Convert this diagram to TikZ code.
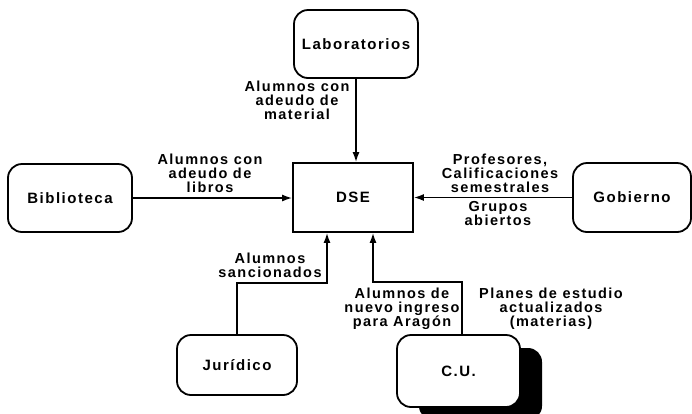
\documentclass[tikz,border=0pt]{standalone}
\usepackage{fontspec}
\setmainfont{Liberation Sans}
\newfontfamily\lblfont{Liberation Sans}[LetterSpace=10]
\usetikzlibrary{arrows.meta,shadows,calc}
\begin{document}
\begin{tikzpicture}[x=1pt,y=-1pt,
  boxfont/.style={font=\lblfont\bfseries\fontsize{15}{15}\selectfont},
  box/.style={draw,line width=1.8pt,rounded corners=14pt,fill=white,inner sep=0pt,boxfont},
  dsebox/.style={draw,line width=1.8pt,fill=white,inner sep=0pt,boxfont},
  lbl/.style={align=center,inner sep=0pt,font=\lblfont\bfseries\fontsize{14.5}{14}\selectfont},
  conn/.style={line width=1.5pt},
  arr/.style={conn,-{Latex[length=10pt,width=7pt]}}]
\useasboundingbox (0,0) rectangle (692,413);

\node[box,minimum width=124pt,minimum height=68pt] (lab) at (356,44) {Laboratorios};
\node[dsebox,minimum width=120pt,minimum height=69pt] (dse) at (353,197.5) {DSE};
\node[box,minimum width=124pt,minimum height=68pt] (bib) at (70,198) {Biblioteca};
\node[box,minimum width=118pt,minimum height=69pt] (gob) at (632,197.5) {Gobierno};
\node[box,minimum width=120pt,minimum height=60pt] (jur) at (237,365) {Jurídico};
\node[box,minimum width=123pt,minimum height=72pt,
      drop shadow={shadow xshift=22pt,shadow yshift=-13pt,fill=black,opacity=1}] (cu) at (458.5,371) {C.U.};

% connectors
\draw[arr] (lab.south) -- (lab.south |- dse.north);
\draw[arr] (bib.east) -- (bib.east -| dse.west);
\draw[arr] (gob.west) -- (gob.west -| dse.east);
\coordinate (j1) at (327,283);
\draw[arr] (jur.north) |- (j1) -- (j1 |- dse.south);
\coordinate (c0) at ($(cu.north)+(3.5,0)$);
\coordinate (c1) at (373,282);
\draw[arr] (c0) |- (c1) -- (c1 |- dse.south);

% labels
\node[lbl] (l1) at (297,100) {Alumnos con\\adeudo de\\material};
\node[lbl] (l2) at (210,173) {Alumnos con\\adeudo de\\libros};
\node[lbl] (l3) at (500,173) {Profesores,\\Calificaciones\\semestrales};
\node[lbl] (l4) at (498,214) {Grupos\\abiertos};
\node[lbl] (l5) at (270,265) {Alumnos\\sancionados};
\node[lbl] (l6) at (402,309) {Alumnos de\\nuevo ingreso\\para Aragón};
\node[lbl] (l7) at (551,309) {Planes de estudio\\actualizados\\(materias)};
\end{tikzpicture}
\end{document}
